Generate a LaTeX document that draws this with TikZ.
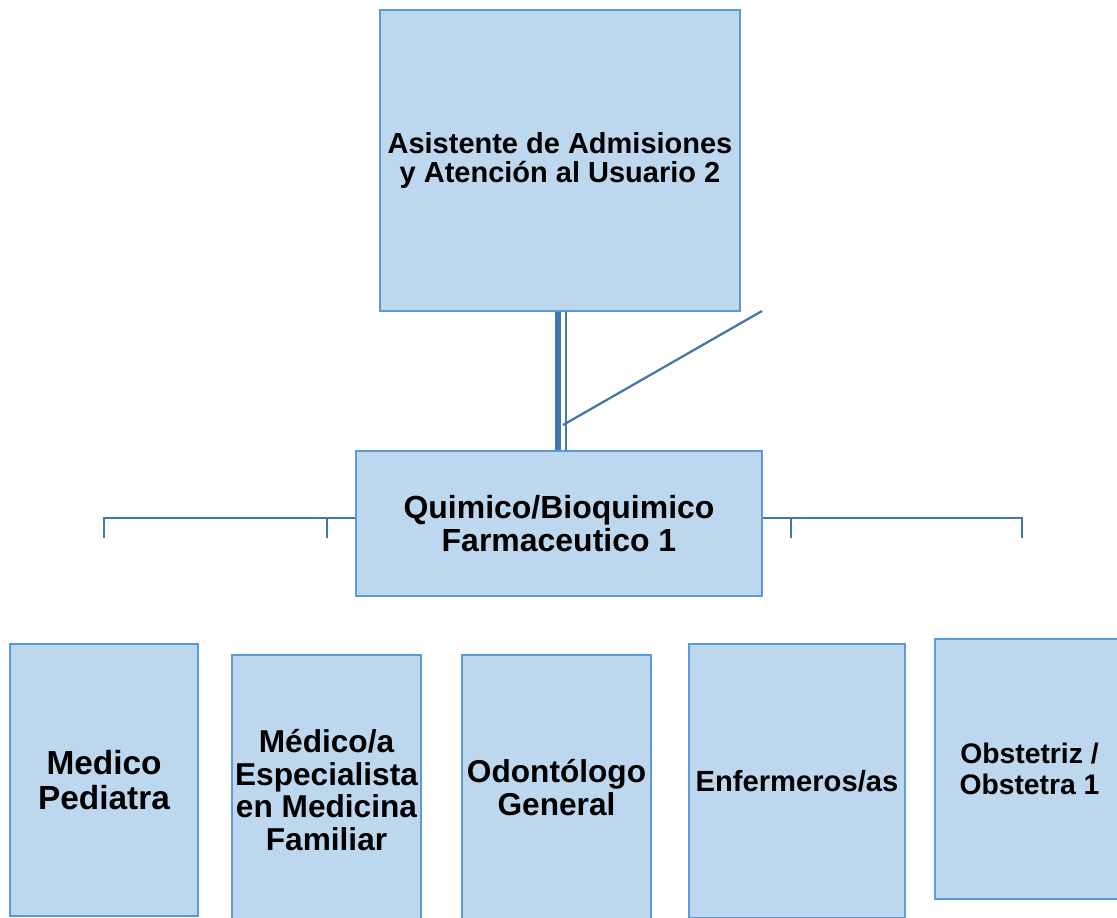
\documentclass[tikz,border=0pt]{standalone}
\usepackage{fontspec}
\setmainfont{Liberation Sans}
\usetikzlibrary{calc}

\definecolor{boxfill}{RGB}{189,215,238}
\definecolor{boxline}{RGB}{91,155,213}
\definecolor{linkline}{RGB}{68,120,170}

\tikzset{
  role/.style={draw=boxline, fill=boxfill, line width=1.2pt, inner sep=0pt, align=center},
  link/.style={draw=linkline, line width=1.3pt},
}

\begin{document}
\begin{tikzpicture}[x=0.02cm,y=-0.02cm]
    \useasboundingbox (0,0) rectangle (1117,918);

    % Upper boxes
    \node[role, minimum width=7.2cm, minimum height=6.02cm, font=\fontsize{16.5}{17}\selectfont\bfseries]
        (asistente) at (560,160.5) {Asistente de Admisiones\\y Atención al Usuario 2};
    \node[role, minimum width=8.12cm, minimum height=2.9cm, font=\fontsize{18.2}{18.7}\selectfont\bfseries]
        (quimico) at (559,523.5) {Quimico/Bioquimico\\Farmaceutico 1};

    % Lower boxes
    \node[role, minimum width=3.76cm, minimum height=5.44cm, font=\fontsize{19}{19.5}\selectfont\bfseries]
        (pediatra) at (104,780) {Medico\\Pediatra};
    \node[role, minimum width=3.78cm, minimum height=5.4cm, font=\fontsize{18}{18.7}\selectfont\bfseries]
        (familiar) at (326.5,790) {Médico/a\\Especialista\\en Medicina\\Familiar};
    \node[role, minimum width=3.78cm, minimum height=5.3cm, font=\fontsize{18}{18.5}\selectfont\bfseries]
        (odonto) at (556.5,787.5) {Odontólogo\\General};
    \node[role, minimum width=4.32cm, minimum height=5.48cm, font=\fontsize{16.6}{17}\selectfont\bfseries]
        (enfermeria) at (797,781) {Enfermeros/as};
    \node[role, minimum width=3.78cm, minimum height=5.2cm, font=\fontsize{16.1}{17.6}\selectfont\bfseries]
        (obstetra) at (1029.5,769) {Obstetriz /\\Obstetra 1};

    % Free ends
    \coordinate (tail) at (762,311);
    \coordinate (joint) at (563,425);
    \coordinate (lefttip) at (104,538);
    \coordinate (leftknee) at (327,518);
    \coordinate (righttip) at (1022,538);
    \coordinate (rightknee) at (791,518);

    % Connectors
    \draw[link, line width=3.4pt] ($(asistente.south)+(-2,0)$) -- ($(quimico.north)+(-1,0)$);
    \draw[link, line width=1.1pt] ($(asistente.south)+(6,0)$) -- ($(quimico.north)+(7,0)$);
    \draw[link] (tail) -- (joint);

    \draw[link] ($(quimico.west)+(0,-5.5)$) -| (lefttip);
    \draw[link] (leftknee) -- ++(0,20);
    \draw[link] ($(quimico.east)+(0,-5.5)$) -| (righttip);
    \draw[link] (rightknee) -- ++(0,20);
\end{tikzpicture}
\end{document}
